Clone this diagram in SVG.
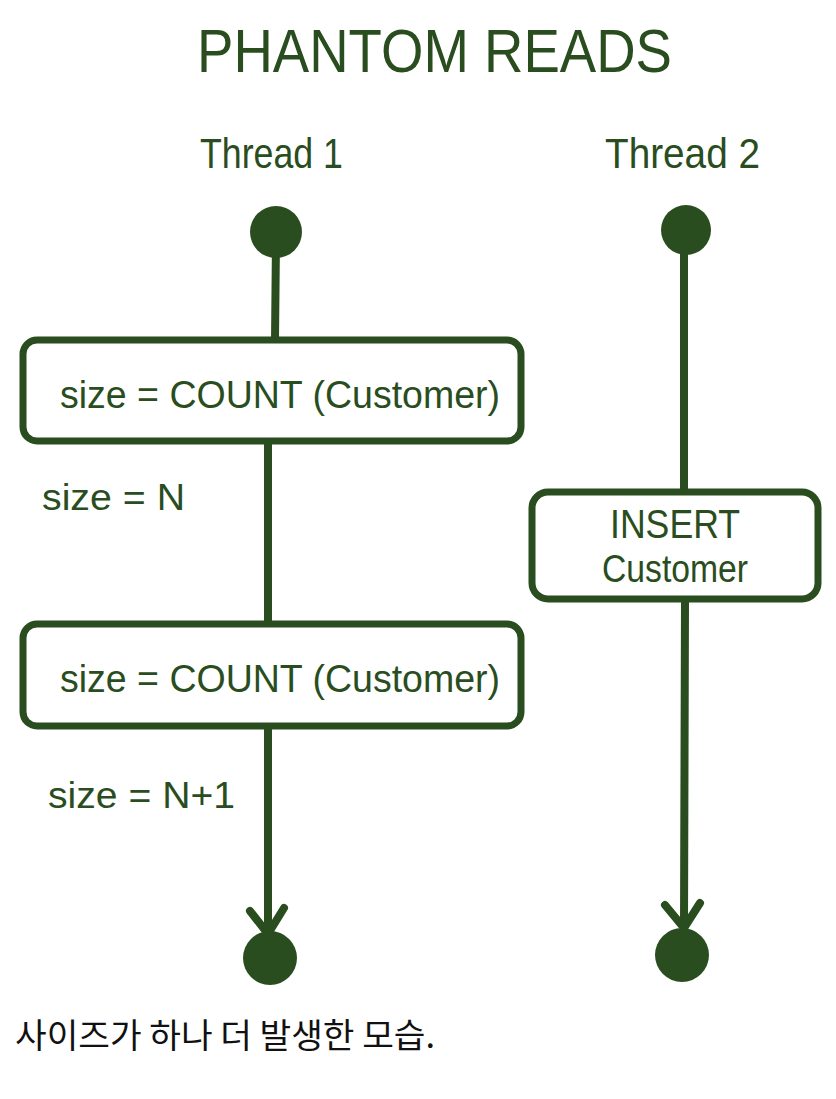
<svg xmlns="http://www.w3.org/2000/svg" width="836" height="1099" viewBox="0 0 836 1099">
  <style>
    .ink { fill: #294d1e; }
    .hand { font-family: "Liberation Sans", "DejaVu Sans", sans-serif; fill: #294d1e; }
    .box { fill: #ffffff; stroke: #294d1e; stroke-width: 7; }
    .flow { fill: none; stroke: #294d1e; stroke-width: 8; stroke-linecap: round; stroke-linejoin: round; }
    .caption { font-family: "Noto Sans CJK KR", "Noto Sans", sans-serif; font-size: 34px; fill: #111111; }
  </style>
  <rect width="836" height="1099" fill="#ffffff"/>

  <!-- title -->
  <text class="hand" x="197" y="72" font-size="62" textLength="475" lengthAdjust="spacingAndGlyphs">PHANTOM READS</text>
  <text class="hand" x="200" y="168" font-size="42" textLength="143" lengthAdjust="spacingAndGlyphs">Thread 1</text>
  <text class="hand" x="605" y="168" font-size="42" textLength="155" lengthAdjust="spacingAndGlyphs">Thread 2</text>

  <!-- connectors: thread lifelines with arrowheads -->
  <g id="connectors">
    <path class="flow" d="M276 240 L275 340"/>
    <path class="flow" d="M268 443 L268 624"/>
    <path class="flow" d="M268 728 L268 935"/>
    <path class="flow" d="M250 911 L268 934 L284 908"/>
    <path class="flow" d="M684 240 L684 492"/>
    <path class="flow" d="M685 600 L684 928"/>
    <path class="flow" d="M665 905 L684 928 L700 903"/>
  </g>

  <!-- thread 1 -->
  <g id="t1-start"><ellipse class="ink" cx="276" cy="232" rx="26" ry="26"/></g>
  <g id="t1-count1">
    <rect class="box" x="23" y="340" width="498" height="101" rx="14"/>
    <text class="hand" x="60" y="408" font-size="38" textLength="440" lengthAdjust="spacingAndGlyphs">size = COUNT (Customer)</text>
  </g>
  <g id="t1-result1">
    <text class="hand" x="42" y="510" font-size="36" textLength="143" lengthAdjust="spacingAndGlyphs">size = N</text>
  </g>
  <g id="t1-count2">
    <rect class="box" x="23" y="624" width="498" height="102" rx="14"/>
    <text class="hand" x="60" y="692" font-size="38" textLength="440" lengthAdjust="spacingAndGlyphs">size = COUNT (Customer)</text>
  </g>
  <g id="t1-result2">
    <text class="hand" x="48" y="808" font-size="36" textLength="187" lengthAdjust="spacingAndGlyphs">size = N+1</text>
  </g>
  <g id="t1-end"><ellipse class="ink" cx="270" cy="958" rx="27" ry="27"/></g>

  <!-- thread 2 -->
  <g id="t2-start"><ellipse class="ink" cx="686" cy="230" rx="25" ry="25"/></g>
  <g id="t2-insert">
    <rect class="box" x="532" y="492" width="286" height="107" rx="16"/>
    <text class="hand" x="610" y="538" font-size="40" textLength="130" lengthAdjust="spacingAndGlyphs">INSERT</text>
    <text class="hand" x="602" y="582" font-size="38" textLength="146" lengthAdjust="spacingAndGlyphs">Customer</text>
  </g>
  <g id="t2-end"><ellipse class="ink" cx="682" cy="955" rx="27" ry="27"/></g>

  <!-- caption -->
  <text class="caption" x="15" y="1048" textLength="420" lengthAdjust="spacingAndGlyphs">사이즈가 하나 더 발생한 모습.</text>
</svg>
